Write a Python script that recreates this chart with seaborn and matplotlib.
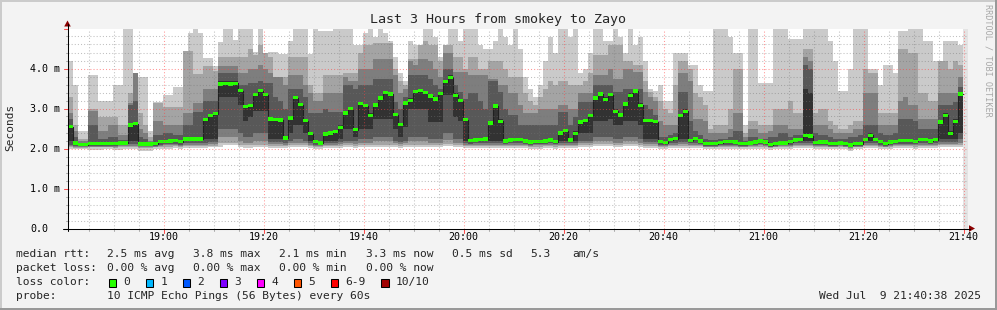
import numpy as np
import pandas as pd
import matplotlib
matplotlib.use("Agg")
import matplotlib.pyplot as plt
import matplotlib.transforms as mtransforms
from matplotlib.lines import Line2D
from matplotlib.patches import Rectangle, Polygon
import seaborn as sns

# ---------------- data ----------------
# one column per 60 s step, median RTT in ms
median = [
    2.55, 2.14, 2.10, 2.10, 2.12, 2.12, 2.12, 2.13, 2.13, 2.13,
    2.14, 2.14, 2.59, 2.62, 2.11, 2.11, 2.11, 2.12, 2.17, 2.18,
    2.19, 2.20, 2.17, 2.24, 2.24, 2.24, 2.24, 2.72, 2.83, 2.87,
    3.61, 3.63, 3.61, 3.63, 3.45, 3.05, 3.07, 3.35, 3.45, 3.35,
    2.74, 2.72, 2.71, 2.26, 2.76, 3.27, 3.10, 2.70, 2.37, 2.17,
    2.14, 2.36, 2.39, 2.42, 2.53, 2.89, 3.00, 2.47, 3.12, 3.07,
    2.83, 3.09, 3.26, 3.40, 3.36, 2.85, 2.60, 3.14, 3.20, 3.42,
    3.45, 3.40, 3.31, 3.24, 3.37, 3.67, 3.78, 3.33, 3.20, 2.72,
    2.20, 2.21, 2.22, 2.24, 2.64, 3.06, 2.68, 2.19, 2.21, 2.22,
    2.22, 2.19, 2.16, 2.17, 2.17, 2.19, 2.21, 2.17, 2.39, 2.45,
    2.21, 2.38, 2.66, 2.70, 2.82, 3.26, 3.36, 3.22, 3.35, 2.93,
    2.84, 3.11, 3.32, 3.44, 3.08, 2.70, 2.70, 2.67, 2.17, 2.15,
    2.22, 2.25, 2.82, 2.93, 2.20, 2.25, 2.19, 2.12, 2.12, 2.12,
    2.15, 2.17, 2.17, 2.16, 2.12, 2.12, 2.14, 2.16, 2.19, 2.16,
    2.10, 2.12, 2.14, 2.14, 2.17, 2.21, 2.22, 2.33, 2.31, 2.15,
    2.16, 2.16, 2.12, 2.12, 2.14, 2.12, 2.09, 2.12, 2.12, 2.23,
    2.33, 2.22, 2.17, 2.12, 2.16, 2.18, 2.20, 2.20, 2.20, 2.18,
    2.23, 2.23, 2.19, 2.22, 2.66, 2.83, 2.37, 2.68, 3.36]

# sorted ping values (10 pings) per step: ping10 = slowest
ping10 = [
    4.18, 3.58, 2.45, 2.45, 3.85, 3.85, 3.20, 3.20, 3.20, 3.60,
    3.60, 5.00, 5.00, 3.90, 3.80, 3.80, 2.45, 3.17, 3.17, 3.35,
    3.35, 3.55, 3.55, 4.43, 4.88, 5.00, 4.88, 4.27, 4.27, 3.95,
    4.66, 5.00, 5.00, 4.72, 5.00, 5.00, 5.00, 4.41, 5.00, 4.40,
    4.41, 4.41, 4.37, 4.37, 4.70, 5.00, 5.00, 5.00, 4.37, 5.00,
    4.95, 4.95, 4.95, 5.00, 5.00, 5.00, 5.00, 4.60, 4.40, 4.90,
    5.00, 4.80, 5.00, 4.90, 4.70, 4.30, 3.90, 3.70, 4.20, 4.10,
    4.60, 5.00, 5.00, 4.80, 4.30, 4.60, 5.00, 5.00, 4.70, 5.00,
    5.00, 5.00, 4.60, 4.50, 4.50, 4.70, 5.00, 4.80, 4.60, 5.00,
    4.50, 3.80, 3.50, 3.30, 3.60, 4.20, 4.80, 4.40, 5.00, 5.00,
    4.80, 5.00, 3.90, 4.00, 4.40, 5.00, 5.00, 4.70, 4.60, 5.00,
    4.80, 4.40, 5.00, 4.60, 4.80, 4.20, 3.50, 3.45, 3.60, 3.20,
    3.20, 4.40, 4.40, 4.40, 4.10, 4.10, 3.60, 3.45, 3.45, 5.00,
    5.00, 5.00, 4.80, 4.40, 4.40, 2.60, 5.00, 5.00, 3.65, 3.65,
    3.65, 5.00, 5.00, 5.00, 4.75, 4.75, 4.75, 5.00, 5.00, 5.00,
    5.00, 5.00, 4.70, 4.20, 3.45, 3.45, 4.00, 5.00, 5.00, 5.00,
    3.90, 3.90, 3.60, 4.10, 4.10, 3.90, 4.95, 4.95, 5.00, 5.00,
    5.00, 4.70, 4.70, 4.20, 4.20, 4.70, 4.70, 4.70, 4.60]
ping9 = [
    3.30, 2.60, 2.25, 2.25, 3.00, 3.00, 2.80, 2.80, 2.80, 2.80,
    2.60, 2.60, 3.40, 3.90, 2.90, 2.60, 2.30, 3.15, 3.15, 3.05,
    3.05, 3.05, 3.05, 4.45, 4.45, 3.87, 3.87, 4.07, 4.07, 4.07,
    4.28, 4.28, 4.28, 4.28, 4.30, 4.30, 4.50, 4.35, 4.60, 4.40,
    4.30, 3.80, 3.80, 3.80, 4.30, 4.30, 4.30, 4.30, 3.60, 3.40,
    3.40, 3.83, 3.83, 3.83, 3.83, 3.90, 3.90, 3.90, 4.58, 4.58,
    4.58, 4.65, 4.65, 4.65, 4.65, 4.00, 3.70, 3.50, 4.70, 4.60,
    4.60, 4.70, 4.58, 4.58, 4.20, 4.60, 4.60, 4.30, 4.30, 4.00,
    4.30, 4.30, 4.00, 4.00, 4.20, 4.20, 4.20, 4.00, 3.80, 3.80,
    3.80, 3.40, 3.20, 3.10, 3.30, 3.50, 3.70, 3.60, 3.70, 3.70,
    3.60, 3.60, 3.60, 3.70, 3.90, 4.33, 4.33, 4.33, 4.70, 4.60,
    4.60, 4.20, 4.20, 4.10, 4.10, 3.70, 3.30, 3.20, 3.20, 3.00,
    2.90, 3.60, 4.20, 4.20, 4.00, 3.40, 3.30, 3.10, 2.50, 2.60,
    2.60, 2.60, 3.00, 4.00, 4.00, 2.40, 2.70, 2.70, 2.60, 2.60,
    2.60, 3.00, 3.00, 3.00, 3.20, 2.90, 2.90, 4.50, 4.50, 2.90,
    3.00, 3.00, 2.70, 2.60, 2.50, 2.50, 2.60, 2.70, 2.70, 4.00,
    4.00, 4.00, 2.90, 2.90, 2.90, 2.90, 4.50, 4.50, 4.40, 4.40,
    3.40, 3.40, 3.20, 3.20, 4.20, 4.20, 4.00, 4.20, 4.10]
ping8 = [
    2.90, 2.45, 2.18, 2.18, 2.95, 2.95, 2.45, 2.45, 2.60, 2.60,
    2.35, 2.35, 3.15, 3.90, 2.50, 2.40, 2.20, 2.70, 2.70, 2.60,
    2.60, 2.60, 2.60, 2.90, 2.90, 3.15, 3.15, 3.50, 3.50, 3.50,
    4.07, 4.07, 4.07, 4.07, 3.90, 3.90, 4.00, 4.00, 4.10, 4.00,
    3.90, 3.80, 3.80, 3.60, 3.83, 3.83, 3.83, 3.60, 3.40, 3.20,
    3.20, 3.40, 3.40, 3.40, 3.40, 3.80, 3.70, 3.70, 3.99, 3.99,
    3.99, 4.24, 4.24, 4.24, 4.24, 3.83, 3.40, 3.30, 4.24, 4.24,
    4.24, 4.24, 4.20, 3.99, 3.80, 4.40, 4.40, 3.91, 3.91, 3.91,
    3.83, 3.83, 3.83, 3.83, 3.70, 3.70, 3.60, 3.60, 3.40, 3.40,
    3.10, 2.90, 2.90, 2.90, 3.00, 3.00, 3.00, 3.00, 3.08, 3.08,
    3.00, 3.00, 3.40, 3.40, 3.40, 3.83, 3.83, 3.83, 3.99, 3.74,
    3.74, 3.99, 3.99, 3.91, 3.91, 3.41, 3.41, 3.30, 2.70, 2.60,
    2.60, 2.60, 3.90, 3.90, 3.70, 2.74, 2.74, 2.70, 2.40, 2.40,
    2.40, 2.40, 2.50, 2.90, 2.90, 2.30, 2.50, 2.50, 2.40, 2.40,
    2.45, 2.60, 2.60, 2.60, 2.50, 2.50, 2.50, 4.30, 4.20, 2.60,
    2.60, 2.60, 2.50, 2.40, 2.40, 2.40, 2.40, 2.50, 2.50, 3.40,
    3.40, 3.40, 2.60, 2.60, 2.60, 2.60, 3.20, 3.30, 3.10, 3.10,
    2.74, 2.74, 2.74, 2.74, 3.40, 3.40, 3.40, 3.40, 3.80]
ping7 = [
    2.75, 2.30, 2.14, 2.14, 2.60, 2.60, 2.25, 2.25, 2.30, 2.30,
    2.22, 2.22, 3.10, 3.20, 2.30, 2.25, 2.15, 2.35, 2.35, 2.40,
    2.40, 2.35, 2.35, 2.60, 2.60, 2.91, 2.91, 3.20, 3.20, 3.20,
    3.90, 3.90, 3.90, 3.90, 3.60, 3.60, 3.65, 3.65, 3.70, 3.65,
    3.65, 3.30, 3.20, 3.00, 3.50, 3.50, 3.50, 3.30, 2.90, 2.90,
    2.90, 2.99, 2.91, 2.91, 2.91, 3.58, 3.58, 3.50, 3.58, 3.58,
    3.58, 3.74, 3.74, 3.74, 3.74, 3.16, 3.00, 3.60, 3.83, 3.83,
    3.83, 3.83, 3.74, 3.58, 3.50, 3.99, 3.99, 3.58, 3.41, 3.24,
    3.40, 3.40, 3.20, 3.00, 3.74, 3.74, 3.41, 2.99, 2.83, 2.83,
    2.58, 2.58, 2.58, 2.58, 2.58, 2.58, 2.58, 2.58, 2.91, 2.91,
    2.58, 2.80, 3.16, 3.16, 3.16, 3.58, 3.58, 3.58, 3.58, 3.41,
    3.41, 3.49, 3.49, 3.49, 3.49, 3.08, 3.00, 2.83, 2.30, 2.30,
    2.35, 2.40, 3.41, 3.41, 2.70, 2.45, 2.35, 2.25, 2.22, 2.22,
    2.25, 2.25, 2.30, 2.45, 2.45, 2.20, 2.30, 2.30, 2.25, 2.25,
    2.30, 2.30, 2.40, 2.40, 2.30, 2.35, 2.35, 4.10, 4.00, 2.40,
    2.35, 2.35, 2.30, 2.25, 2.25, 2.25, 2.30, 2.30, 2.35, 2.58,
    2.58, 2.58, 2.40, 2.35, 2.35, 2.40, 2.74, 2.74, 2.74, 2.70,
    2.50, 2.50, 2.50, 2.50, 3.08, 3.08, 3.08, 3.16, 3.55]
ping6 = [
    2.58, 2.16, 2.12, 2.12, 2.14, 2.14, 2.14, 2.15, 2.15, 2.15,
    2.16, 2.16, 2.65, 2.66, 2.13, 2.13, 2.13, 2.14, 2.19, 2.20,
    2.21, 2.22, 2.19, 2.26, 2.26, 2.26, 2.26, 2.76, 2.87, 2.91,
    3.70, 3.70, 3.70, 3.70, 3.50, 3.10, 3.12, 3.40, 3.50, 3.40,
    2.80, 2.76, 2.75, 2.30, 2.80, 3.32, 3.15, 2.75, 2.42, 2.20,
    2.17, 2.40, 2.43, 2.46, 2.58, 2.93, 3.05, 2.51, 3.17, 3.12,
    2.88, 3.14, 3.31, 3.45, 3.41, 2.90, 2.65, 3.19, 3.26, 3.47,
    3.50, 3.45, 3.36, 3.29, 3.42, 3.72, 3.84, 3.38, 3.25, 2.77,
    2.24, 2.25, 2.26, 2.28, 2.70, 3.12, 2.73, 2.22, 2.24, 2.25,
    2.25, 2.22, 2.19, 2.20, 2.20, 2.22, 2.24, 2.20, 2.44, 2.50,
    2.25, 2.43, 2.71, 2.75, 2.87, 3.32, 3.42, 3.28, 3.40, 2.98,
    2.89, 3.16, 3.38, 3.50, 3.13, 2.75, 2.75, 2.72, 2.20, 2.18,
    2.25, 2.28, 2.87, 2.98, 2.24, 2.28, 2.22, 2.15, 2.15, 2.15,
    2.18, 2.20, 2.20, 2.19, 2.15, 2.15, 2.17, 2.19, 2.22, 2.19,
    2.13, 2.15, 2.17, 2.17, 2.20, 2.24, 2.25, 3.50, 3.40, 2.18,
    2.19, 2.19, 2.15, 2.15, 2.17, 2.15, 2.12, 2.15, 2.15, 2.26,
    2.38, 2.26, 2.20, 2.15, 2.19, 2.21, 2.23, 2.23, 2.23, 2.21,
    2.26, 2.26, 2.22, 2.25, 2.72, 2.90, 2.45, 2.75, 3.42]
ping5 = [
    2.20, 2.10, 2.08, 2.08, 2.09, 2.09, 2.09, 2.10, 2.10, 2.10,
    2.11, 2.11, 2.20, 2.20, 2.08, 2.08, 2.08, 2.09, 2.14, 2.15,
    2.16, 2.17, 2.14, 2.20, 2.20, 2.20, 2.20, 2.24, 2.24, 2.24,
    3.30, 3.30, 3.30, 3.30, 3.10, 2.70, 2.80, 2.95, 2.95, 2.95,
    2.24, 2.24, 2.24, 2.22, 2.40, 2.60, 2.60, 2.40, 2.20, 2.13,
    2.11, 2.20, 2.20, 2.20, 2.25, 2.50, 2.50, 2.30, 2.50, 2.50,
    2.50, 2.75, 2.75, 2.75, 2.75, 2.50, 2.30, 2.55, 3.00, 3.00,
    3.00, 3.00, 2.66, 2.66, 2.66, 3.33, 3.33, 2.80, 2.70, 2.20,
    2.17, 2.18, 2.18, 2.20, 2.20, 2.20, 2.20, 2.16, 2.18, 2.19,
    2.19, 2.16, 2.13, 2.14, 2.14, 2.16, 2.18, 2.14, 2.20, 2.20,
    2.18, 2.20, 2.40, 2.40, 2.40, 2.70, 2.70, 2.70, 2.75, 2.60,
    2.60, 2.70, 2.70, 2.70, 2.60, 2.24, 2.24, 2.24, 2.14, 2.12,
    2.19, 2.22, 2.24, 2.24, 2.17, 2.22, 2.16, 2.09, 2.09, 2.09,
    2.12, 2.14, 2.14, 2.13, 2.09, 2.09, 2.11, 2.13, 2.16, 2.13,
    2.07, 2.09, 2.11, 2.11, 2.14, 2.18, 2.19, 2.20, 2.20, 2.12,
    2.13, 2.13, 2.09, 2.09, 2.11, 2.09, 2.06, 2.09, 2.09, 2.18,
    2.20, 2.19, 2.14, 2.09, 2.13, 2.15, 2.17, 2.17, 2.17, 2.15,
    2.20, 2.20, 2.16, 2.19, 2.24, 2.24, 2.24, 2.24, 2.40]
ping4 = [
    2.10, 2.07, 2.06, 2.06, 2.07, 2.07, 2.07, 2.07, 2.07, 2.07,
    2.08, 2.08, 2.12, 2.12, 2.06, 2.06, 2.06, 2.07, 2.10, 2.11,
    2.12, 2.12, 2.10, 2.14, 2.14, 2.14, 2.14, 2.14, 2.16, 2.16,
    2.50, 2.50, 2.50, 2.50, 2.40, 2.30, 2.30, 2.40, 2.40, 2.40,
    2.16, 2.16, 2.16, 2.15, 2.20, 2.25, 2.25, 2.20, 2.14, 2.10,
    2.09, 2.14, 2.14, 2.14, 2.16, 2.20, 2.20, 2.18, 2.25, 2.25,
    2.25, 2.30, 2.30, 2.30, 2.30, 2.20, 2.16, 2.20, 2.30, 2.30,
    2.30, 2.30, 2.25, 2.25, 2.25, 2.40, 2.40, 2.25, 2.25, 2.14,
    2.12, 2.13, 2.13, 2.14, 2.14, 2.14, 2.14, 2.12, 2.13, 2.14,
    2.14, 2.12, 2.10, 2.11, 2.11, 2.12, 2.13, 2.11, 2.14, 2.14,
    2.13, 2.14, 2.20, 2.20, 2.20, 2.30, 2.30, 2.30, 2.30, 2.25,
    2.25, 2.30, 2.30, 2.30, 2.25, 2.16, 2.16, 2.16, 2.10, 2.09,
    2.13, 2.15, 2.16, 2.16, 2.13, 2.15, 2.12, 2.07, 2.07, 2.07,
    2.09, 2.10, 2.10, 2.10, 2.07, 2.07, 2.08, 2.10, 2.12, 2.10,
    2.05, 2.07, 2.08, 2.08, 2.10, 2.13, 2.14, 2.15, 2.15, 2.09,
    2.10, 2.10, 2.07, 2.07, 2.08, 2.07, 2.04, 2.07, 2.07, 2.13,
    2.14, 2.14, 2.10, 2.07, 2.10, 2.11, 2.12, 2.12, 2.12, 2.11,
    2.14, 2.14, 2.12, 2.14, 2.16, 2.16, 2.16, 2.16, 2.25]
ping3 = [
    2.06, 2.05, 2.04, 2.04, 2.05, 2.05, 2.05, 2.05, 2.05, 2.05,
    2.06, 2.06, 2.07, 2.07, 2.04, 2.04, 2.04, 2.05, 2.07, 2.08,
    2.08, 2.09, 2.07, 2.10, 2.10, 2.10, 2.10, 2.10, 2.11, 2.11,
    2.30, 2.30, 2.30, 2.30, 2.20, 2.15, 2.15, 2.20, 2.20, 2.20,
    2.11, 2.11, 2.11, 2.10, 2.13, 2.15, 2.15, 2.13, 2.10, 2.07,
    2.06, 2.10, 2.10, 2.10, 2.11, 2.13, 2.13, 2.12, 2.15, 2.15,
    2.15, 2.18, 2.18, 2.18, 2.18, 2.13, 2.11, 2.13, 2.18, 2.18,
    2.18, 2.18, 2.15, 2.15, 2.15, 2.22, 2.22, 2.15, 2.15, 2.10,
    2.09, 2.10, 2.10, 2.10, 2.10, 2.10, 2.10, 2.09, 2.10, 2.10,
    2.10, 2.09, 2.07, 2.08, 2.08, 2.09, 2.10, 2.08, 2.10, 2.10,
    2.10, 2.10, 2.14, 2.14, 2.14, 2.18, 2.18, 2.18, 2.18, 2.15,
    2.15, 2.18, 2.18, 2.18, 2.15, 2.11, 2.11, 2.11, 2.07, 2.06,
    2.09, 2.10, 2.11, 2.11, 2.09, 2.10, 2.09, 2.05, 2.05, 2.05,
    2.06, 2.07, 2.07, 2.07, 2.05, 2.05, 2.06, 2.07, 2.08, 2.07,
    2.03, 2.05, 2.06, 2.06, 2.07, 2.09, 2.10, 2.10, 2.10, 2.06,
    2.07, 2.07, 2.05, 2.05, 2.06, 2.05, 2.02, 2.05, 2.05, 2.09,
    2.10, 2.10, 2.07, 2.05, 2.07, 2.08, 2.09, 2.09, 2.09, 2.08,
    2.10, 2.10, 2.09, 2.10, 2.11, 2.11, 2.11, 2.11, 2.15]
ping2 = [
    2.03, 2.02, 2.02, 2.02, 2.03, 2.03, 2.03, 2.03, 2.03, 2.02,
    2.03, 2.03, 2.04, 2.04, 2.02, 2.02, 2.02, 2.03, 2.04, 2.05,
    2.05, 2.06, 2.04, 2.06, 2.06, 2.06, 2.06, 2.06, 2.07, 2.07,
    2.15, 2.15, 2.15, 2.15, 2.10, 2.08, 2.08, 2.10, 2.10, 2.10,
    2.07, 2.07, 2.07, 2.06, 2.08, 2.09, 2.09, 2.08, 2.06, 2.04,
    2.03, 2.06, 2.06, 2.06, 2.07, 2.08, 2.08, 2.07, 2.09, 2.09,
    2.09, 2.10, 2.10, 2.10, 2.10, 2.08, 2.07, 2.08, 2.10, 2.10,
    2.10, 2.10, 2.09, 2.09, 2.09, 2.12, 2.12, 2.09, 2.09, 2.06,
    2.06, 2.07, 2.07, 2.07, 2.07, 2.07, 2.07, 2.06, 2.07, 2.07,
    2.07, 2.06, 2.04, 2.05, 2.05, 2.06, 2.07, 2.05, 2.07, 2.07,
    2.07, 2.07, 2.09, 2.09, 2.09, 2.11, 2.11, 2.11, 2.11, 2.09,
    2.09, 2.11, 2.11, 2.11, 2.09, 2.07, 2.07, 2.07, 2.04, 2.03,
    2.06, 2.07, 2.07, 2.07, 2.06, 2.07, 2.06, 2.03, 2.03, 2.03,
    2.04, 2.05, 2.05, 2.05, 2.03, 2.03, 2.04, 2.05, 2.05, 2.05,
    2.01, 2.03, 2.04, 2.04, 2.05, 2.06, 2.07, 2.07, 2.07, 2.04,
    2.05, 2.05, 2.03, 2.03, 2.04, 2.03, 2.00, 2.03, 2.03, 2.06,
    2.07, 2.07, 2.05, 2.03, 2.05, 2.06, 2.06, 2.06, 2.06, 2.05,
    2.07, 2.07, 2.06, 2.07, 2.08, 2.08, 2.08, 2.08, 2.10]
ping1 = [
    1.99, 1.98, 1.98, 1.98, 1.96, 1.96, 1.97, 1.98, 1.98, 1.97,
    1.97, 1.98, 1.99, 1.99, 1.95, 1.95, 1.95, 1.98, 2.00, 2.00,
    2.00, 2.01, 1.99, 2.02, 2.02, 2.02, 2.02, 2.02, 2.03, 2.03,
    2.05, 2.08, 2.10, 2.10, 2.04, 2.02, 2.02, 2.04, 2.04, 2.04,
    2.02, 2.02, 2.02, 2.01, 2.03, 2.04, 2.04, 2.03, 2.01, 2.00,
    1.99, 2.01, 2.01, 2.01, 2.02, 2.03, 2.03, 2.02, 2.04, 2.04,
    2.04, 2.05, 2.05, 2.05, 2.05, 2.03, 2.02, 2.03, 2.05, 2.05,
    2.05, 2.05, 2.04, 2.04, 2.04, 2.06, 2.06, 2.04, 2.04, 2.01,
    2.01, 2.02, 2.02, 2.02, 2.02, 2.02, 2.02, 2.01, 2.02, 2.02,
    2.02, 2.01, 1.99, 2.00, 2.00, 2.01, 2.02, 2.00, 2.02, 2.02,
    2.02, 2.02, 2.04, 2.04, 2.04, 2.06, 2.06, 2.06, 2.06, 2.04,
    2.04, 2.06, 2.06, 2.06, 2.04, 2.02, 2.02, 2.02, 1.99, 1.98,
    2.01, 2.02, 2.02, 2.02, 2.01, 2.02, 2.01, 1.98, 1.98, 1.98,
    1.99, 2.00, 2.00, 2.00, 1.98, 1.98, 1.99, 2.00, 2.00, 2.00,
    1.96, 1.98, 1.99, 1.99, 2.00, 2.01, 2.02, 2.02, 2.02, 1.99,
    2.00, 2.00, 1.98, 1.98, 1.99, 1.98, 1.95, 1.98, 1.98, 2.01,
    2.02, 2.02, 2.00, 1.98, 2.00, 2.01, 2.01, 2.01, 2.01, 2.00,
    2.02, 2.02, 2.01, 2.02, 2.03, 2.03, 2.03, 2.03, 2.05]

x_ticks = [0, 20, 40, 60, 80, 100, 120, 140, 160]          # minutes after 19:00
x_labels = ["19:00", "19:20", "19:40", "20:00", "20:20",
            "20:40", "21:00", "21:20", "21:40"]
y_ticks = [0, 1, 2, 3, 4]
y_labels = ["0.0", "1.0 m", "2.0 m", "3.0 m", "4.0 m"]

title = "Last 3 Hours from smokey to Zayo"
rtt_stats = ["2.5 ms avg", "3.8 ms max", "2.1 ms min", "3.3 ms now", "0.5 ms sd"]
am_s = "5.3"
loss_stats = ["0.00 % avg", "0.00 % max", "0.00 % min", "0.00 % now"]
loss_labels = ["0", "1", "2", "3", "4", "5", "6-9", "10/10"]
loss_colors = ["#26ff00", "#00b8ff", "#0059ff", "#7e00ff",
               "#ff00ff", "#ff5500", "#ff0000", "#a00000"]
probe_text = "10 ICMP Echo Pings (56 Bytes) every 60s"
stamp = "Wed Jul  9 21:40:38 2025"

# ---------------- drawing ----------------
sns.set_style("white")
plt.rcParams['font.family'] = ['DejaVu Sans Mono', 'DejaVu Sans']

W, H = 997, 310
BG = "#f3f3f3"
fig = plt.figure(figsize=(W / 100, H / 100), dpi=100, facecolor=BG)

def fx(px):
    return px / W

def fy(py):
    return 1 - py / H

ax = fig.add_axes([fx(67.5), fy(228.5), 900 / W, 200 / H])
ax.set_facecolor("white")
ax.set_xlim(-19.2, 160.8)
ax.set_ylim(0, 5.0)
for s in ax.spines.values():
    s.set_visible(False)
ax.set_xticks([])
ax.set_yticks([])

x0 = -19.1                          # start of the first step (minutes from 19:00)
med = np.array(median)
pings = np.sort(np.vstack([ping1, ping2, ping3, ping4, ping5,
                           ping6, ping7, ping8, ping9, ping10]), axis=0)
n = len(med)
xe = x0 + np.arange(n + 1)

def ext(a):
    a = np.asarray(a, dtype=float)
    return np.append(a, a[-1])

shades = ["#cacaca", "#a4a4a4", "#7e7e7e", "#585858", "#323232"]
for i in range(5):
    ax.fill_between(xe, ext(pings[i]), ext(pings[9 - i]), step="post",
                    color=shades[i], lw=0, zorder=2)

# unknown "now" strip at the right
ax.axvspan(x0 + n, 160.8, color="#e4e4e4", lw=0, zorder=1.5)

# median line (black step) + green loss-colored median blocks
df = pd.DataFrame({"t": xe, "rtt": ext(med)})
sns.lineplot(data=df, x="t", y="rtt", drawstyle="steps-post", color="#202020",
             lw=0.8, ax=ax, zorder=3, legend=False)
ax.set_xlabel("")
ax.set_ylabel("")
ax.fill_between(xe, ext(med) - 0.042, ext(med) + 0.042, step="post",
                color=loss_colors[0], lw=0, zorder=4)

# grid (over data, like rrdtool)
minor_c = (0.45, 0.45, 0.45, 0.45)
major_c = (1.0, 0.25, 0.25, 0.55)
dot = (0, (1, 2))
for k in range(1, 25):
    v = k * 0.2
    if k % 5 == 0:
        ax.axhline(v, color=major_c, lw=0.75, ls=dot, zorder=5)
    else:
        ax.axhline(v, color=minor_c, lw=0.75, ls=dot, zorder=5)
for m in range(-15, 161, 5):
    if m % 20 == 0:
        ax.axvline(m, color=major_c, lw=0.75, ls=dot, zorder=5)
    else:
        ax.axvline(m, color=minor_c, lw=0.75, ls=dot, zorder=5)

# tick marks
ty = mtransforms.blended_transform_factory(fig.transFigure, ax.transData)
tx = mtransforms.blended_transform_factory(ax.transData, fig.transFigure)
for k in range(0, 26):
    v = k * 0.2
    if k % 5 == 0:
        fig.add_artist(Line2D([fx(63.5), fx(67.5)], [v, v], transform=ty,
                              color=(1, 0.3, 0.3) if k else "black", lw=0.75))
    else:
        fig.add_artist(Line2D([fx(65.5), fx(67.5)], [v, v], transform=ty,
                              color="#b0b0b0", lw=0.75))
for m in range(-15, 161, 5):
    if m % 20 == 0:
        fig.add_artist(Line2D([m, m], [fy(228.5), fy(232.5)], transform=tx,
                              color=(1, 0.3, 0.3), lw=0.75))
    else:
        fig.add_artist(Line2D([m, m], [fy(228.5), fy(230.5)], transform=tx,
                              color="#b0b0b0", lw=0.75))

# axes lines + arrows
fig.add_artist(Line2D([fx(67.5), fx(67.5)], [fy(231), fy(24)],
                      transform=fig.transFigure, color="black", lw=0.75))
fig.add_artist(Line2D([fx(63), fx(970)], [fy(228.5), fy(228.5)],
                      transform=fig.transFigure, color="black", lw=0.75))
arrow_c = "#8b0000"
fig.add_artist(Polygon([[fx(67.5), fy(20.5)], [fx(64.2), fy(26.5)], [fx(70.8), fy(26.5)]],
                       closed=True, transform=fig.transFigure, color=arrow_c, lw=0))
fig.add_artist(Polygon([[fx(975), fy(228.5)], [fx(969), fy(225.2)], [fx(969), fy(231.8)]],
                       closed=True, transform=fig.transFigure, color=arrow_c, lw=0))

# tick labels
for v, lab in zip(y_ticks, y_labels):
    fig.text(fx(30), v, lab, transform=ty, ha="left", va="center",
             fontsize=7.2, color="black")
for m, lab in zip(x_ticks, x_labels):
    fig.text(m, fy(237.5), lab, transform=tx, ha="center", va="center",
             fontsize=7.2, color="black")

# titles
fig.text(fx(498), fy(19), title, ha="center", va="center", fontsize=9.6)
fig.text(fx(10.5), fy(127), "Seconds", ha="center", va="center",
         rotation=90, fontsize=8)
fig.text(fx(988), fy(60), "RRDTOOL / TOBI OETIKER", ha="center", va="center",
         rotation=270, fontsize=6.1, color="#a8a8a8")

# legend block
fs = 8.1
cols = [107.3, 193.3, 279.3, 365.7, 451.7]
fig.text(fx(16), fy(254.3), "median rtt:", ha="left", va="center", fontsize=fs)
for x, t in zip(cols, rtt_stats):
    fig.text(fx(x), fy(254.3), t, ha="left", va="center", fontsize=fs)
fig.text(fx(530.7), fy(254.3), am_s, ha="left", va="center", fontsize=fs)
fig.text(fx(572.7), fy(254.3), "am/s", ha="left", va="center", fontsize=fs)

fig.text(fx(16), fy(268.3), "packet loss:", ha="left", va="center", fontsize=fs)
for x, t in zip(cols, loss_stats):
    fig.text(fx(x), fy(268.3), t, ha="left", va="center", fontsize=fs)

fig.text(fx(16), fy(282.3), "loss color:", ha="left", va="center", fontsize=fs)
box_x = [108.5, 145.7, 182.7, 219.5, 256.7, 293.5, 330.7, 381.2]
lab_x = [123.3, 160.2, 197.2, 234.2, 271.2, 308.2, 345.2, 396.0]
for bx, lx, lab, c in zip(box_x, lab_x, loss_labels, loss_colors):
    fig.add_artist(Rectangle((fx(bx), fy(286.5)), 7.4 / W, 8.0 / H,
                             transform=fig.transFigure, facecolor=c,
                             edgecolor="black", lw=0.75))
    fig.text(fx(lx), fy(282.3), lab, ha="left", va="center", fontsize=fs)

fig.text(fx(16), fy(296.3), "probe:", ha="left", va="center", fontsize=fs)
fig.text(fx(107.3), fy(296.3), probe_text, ha="left", va="center", fontsize=fs)
fig.text(fx(980.5), fy(296.3), stamp, ha="right", va="center", fontsize=fs)

# 3-D frame of the canvas
fig.add_artist(Rectangle((0, fy(2)), 1, 2 / H, transform=fig.transFigure,
                         facecolor="#cbcbcb", lw=0))
fig.add_artist(Rectangle((0, 0), 2 / W, 1, transform=fig.transFigure,
                         facecolor="#cbcbcb", lw=0))
fig.add_artist(Rectangle((0, 0), 1, 2.5 / H, transform=fig.transFigure,
                         facecolor="#999999", lw=0))
fig.add_artist(Rectangle((fx(995), 0), 2 / W, 1, transform=fig.transFigure,
                         facecolor="#999999", lw=0))

fig.savefig("out.png", dpi=100, facecolor=BG)
